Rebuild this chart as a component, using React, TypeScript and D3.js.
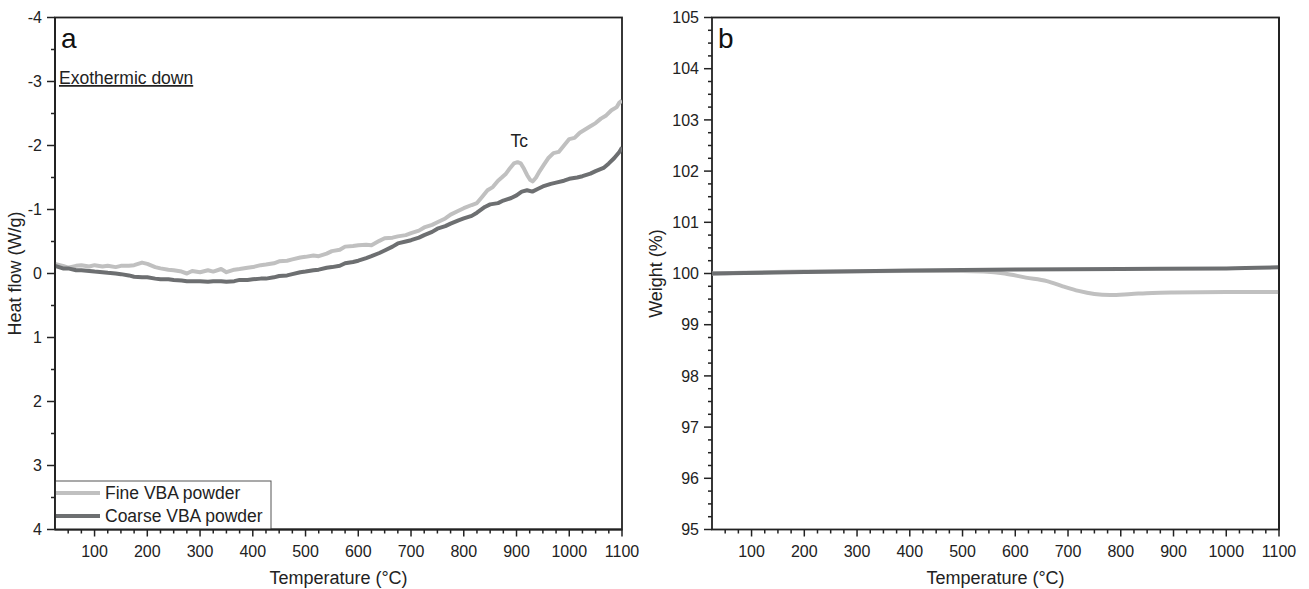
import React, { useEffect, useRef } from "react";
import * as d3 from "d3";

// DSC (panel a)
const fineT = [25, 40, 50, 65, 75, 90, 100, 115, 125, 140, 150, 165, 175, 190, 200, 215, 225, 240, 250, 265, 275, 285, 300, 315, 325, 340, 350, 365, 375, 390, 400, 415, 425, 440, 450, 465, 475, 490, 500, 515, 525, 540, 550, 565, 575, 590, 600, 615, 625, 640, 650, 665, 675, 690, 700, 715, 725, 740, 750, 765, 775, 790, 800, 815, 825, 835, 845, 855, 865, 872, 880, 888, 895, 902, 908, 914, 920, 926, 931, 937, 944, 952, 960, 970, 980, 990, 1000, 1010, 1020, 1030, 1040, 1050, 1060, 1070, 1080, 1090, 1095, 1100];
const fineHF = [-0.15, -0.12, -0.09, -0.12, -0.13, -0.11, -0.13, -0.11, -0.12, -0.1, -0.12, -0.12, -0.13, -0.17, -0.15, -0.1, -0.08, -0.06, -0.05, -0.03, 0.0, -0.04, -0.02, -0.05, -0.03, -0.07, -0.02, -0.06, -0.07, -0.09, -0.1, -0.13, -0.14, -0.16, -0.19, -0.2, -0.22, -0.25, -0.26, -0.28, -0.27, -0.31, -0.35, -0.37, -0.42, -0.43, -0.44, -0.45, -0.44, -0.51, -0.55, -0.56, -0.58, -0.6, -0.63, -0.67, -0.72, -0.76, -0.8, -0.86, -0.92, -0.98, -1.02, -1.07, -1.1, -1.2, -1.3, -1.35, -1.45, -1.5, -1.56, -1.65, -1.72, -1.74, -1.72, -1.64, -1.54, -1.46, -1.44, -1.5, -1.6, -1.7, -1.8, -1.88, -1.9, -2.0, -2.1, -2.12, -2.2, -2.25, -2.3, -2.35, -2.42, -2.47, -2.55, -2.6, -2.67, -2.7];

const coarseT = [25, 40, 50, 65, 75, 90, 100, 115, 125, 140, 150, 165, 175, 190, 200, 215, 225, 240, 250, 265, 275, 290, 300, 315, 325, 340, 350, 365, 375, 390, 400, 415, 425, 440, 450, 465, 475, 490, 500, 515, 525, 540, 550, 565, 575, 590, 600, 615, 625, 640, 650, 665, 675, 690, 700, 715, 725, 740, 750, 765, 775, 790, 800, 815, 825, 840, 850, 865, 875, 890, 900, 910, 920, 930, 940, 950, 965, 975, 990, 1000, 1015, 1025, 1040, 1050, 1065, 1075, 1085, 1095, 1100];
const coarseHF = [-0.12, -0.08, -0.08, -0.05, -0.05, -0.04, -0.03, -0.02, -0.01, 0.0, 0.01, 0.03, 0.05, 0.06, 0.06, 0.08, 0.09, 0.09, 0.1, 0.11, 0.12, 0.12, 0.12, 0.13, 0.12, 0.12, 0.13, 0.12, 0.1, 0.1, 0.09, 0.08, 0.08, 0.06, 0.04, 0.03, 0.01, -0.02, -0.03, -0.05, -0.06, -0.09, -0.1, -0.12, -0.16, -0.18, -0.2, -0.24, -0.27, -0.32, -0.36, -0.42, -0.47, -0.5, -0.52, -0.56, -0.6, -0.65, -0.7, -0.74, -0.78, -0.83, -0.86, -0.9, -0.95, -1.04, -1.08, -1.1, -1.14, -1.18, -1.22, -1.28, -1.3, -1.28, -1.32, -1.36, -1.4, -1.42, -1.45, -1.48, -1.5, -1.52, -1.56, -1.6, -1.65, -1.72, -1.8, -1.9, -1.97];

// TGA (panel b)
const fineWT = [25, 200, 400, 500, 540, 580, 620, 660, 690, 720, 750, 780, 820, 860, 900, 1000, 1100];
const fineW = [100.0, 100.04, 100.05, 100.05, 100.04, 100.0, 99.92, 99.85, 99.75, 99.66, 99.6, 99.58, 99.6, 99.62, 99.63, 99.64, 99.64];
const coarseWT = [25, 200, 400, 600, 800, 1000, 1100];
const coarseW = [100.0, 100.03, 100.06, 100.08, 100.09, 100.1, 100.12];

const xTicks = [100, 200, 300, 400, 500, 600, 700, 800, 900, 1000, 1100];
const hfTicks = [-4, -3, -2, -1, 0, 1, 2, 3, 4];
const wTicks = [95, 96, 97, 98, 99, 100, 101, 102, 103, 104, 105];

const FINE = "#c0c0c0";
const COARSE = "#6d6f71";
const FONT = "'Liberation Sans', Arial, sans-serif";

const App = () => {
  const svgRef = useRef<SVGSVGElement>(null);

  useEffect(() => {
    const svg = d3.select(svgRef.current);
    svg.selectAll("*").remove();

    const top = 17.5;
    const bottom = 529.5;

    const drawPanel = (
      left: number,
      right: number,
      yDomain: [number, number],
      yTicks: number[],
      yMinor: number,
      yTitle: string,
      yTitleX: number,
      letter: string
    ) => {
      const x = d3.scaleLinear().domain([25, 1100]).range([left, right]);
      const y = d3.scaleLinear().domain(yDomain).range([bottom, top]);
      const g = svg.append("g");

      // minor ticks
      const xMinor = d3.range(50, 1101, 25).filter((v) => v % 100 !== 0);
      g.selectAll(".xm")
        .data(xMinor)
        .enter()
        .append("line")
        .attr("x1", (d) => x(d))
        .attr("x2", (d) => x(d))
        .attr("y1", bottom)
        .attr("y2", bottom + 4)
        .attr("stroke", "#222")
        .attr("stroke-width", 1.5);
      const ym: number[] = [];
      for (let i = 0; i < yTicks.length - 1; i++) {
        for (let v = yTicks[i] + yMinor; v < yTicks[i + 1] - 1e-9; v += yMinor) ym.push(v);
      }
      g.selectAll(".ym")
        .data(ym)
        .enter()
        .append("line")
        .attr("x1", left - 4)
        .attr("x2", left)
        .attr("y1", (d) => y(d))
        .attr("y2", (d) => y(d))
        .attr("stroke", "#222")
        .attr("stroke-width", 1.5);

      // major ticks
      g.selectAll(".xM")
        .data(xTicks)
        .enter()
        .append("line")
        .attr("x1", (d) => x(d))
        .attr("x2", (d) => x(d))
        .attr("y1", bottom)
        .attr("y2", bottom + 7)
        .attr("stroke", "#222")
        .attr("stroke-width", 1.5);
      g.selectAll(".xl")
        .data(xTicks)
        .enter()
        .append("text")
        .attr("x", (d) => x(d))
        .attr("y", bottom + 27)
        .attr("text-anchor", "middle")
        .attr("font-family", FONT)
        .attr("font-size", 16)
        .attr("fill", "#222")
        .text((d) => String(d));
      g.selectAll(".yM")
        .data(yTicks)
        .enter()
        .append("line")
        .attr("x1", left - 8)
        .attr("x2", left)
        .attr("y1", (d) => y(d))
        .attr("y2", (d) => y(d))
        .attr("stroke", "#222")
        .attr("stroke-width", 1.5);
      g.selectAll(".yl")
        .data(yTicks)
        .enter()
        .append("text")
        .attr("x", left - 13)
        .attr("y", (d) => y(d))
        .attr("dy", "0.35em")
        .attr("text-anchor", "end")
        .attr("font-family", FONT)
        .attr("font-size", 16)
        .attr("fill", "#222")
        .text((d) => String(d));

      // frame
      g.append("rect")
        .attr("x", left)
        .attr("y", top)
        .attr("width", right - left)
        .attr("height", bottom - top)
        .attr("fill", "none")
        .attr("stroke", "#222")
        .attr("stroke-width", 1.8);

      g.append("text")
        .attr("x", (left + right) / 2)
        .attr("y", 584)
        .attr("text-anchor", "middle")
        .attr("font-family", FONT)
        .attr("font-size", 18)
        .attr("fill", "#222")
        .text("Temperature (°C)");
      g.append("text")
        .attr("transform", `translate(${yTitleX},${(top + bottom) / 2}) rotate(-90)`)
        .attr("text-anchor", "middle")
        .attr("font-family", FONT)
        .attr("font-size", 18)
        .attr("fill", "#222")
        .text(yTitle);
      g.append("text")
        .attr("x", left + 6)
        .attr("y", top + 30)
        .attr("font-family", FONT)
        .attr("font-size", 28)
        .attr("fill", "#111")
        .text(letter);

      return { x, y, g };
    };

    // panel a
    const a = drawPanel(55, 622, [4, -4], hfTicks, 0.5, "Heat flow (W/g)", 21, "a");
    const lineA = d3
      .line<[number, number]>()
      .x((d) => a.x(d[0]))
      .y((d) => a.y(d[1]));
    const clipA = svg.append("clipPath").attr("id", "clipA");
    clipA.append("rect").attr("x", 55).attr("y", 17.5).attr("width", 567).attr("height", 512);
    a.g.append("path")
      .datum(fineT.map((t, i) => [t, fineHF[i]] as [number, number]))
      .attr("d", lineA)
      .attr("clip-path", "url(#clipA)")
      .attr("fill", "none")
      .attr("stroke", FINE)
      .attr("stroke-width", 4)
      .attr("stroke-linejoin", "round");
    a.g.append("path")
      .datum(coarseT.map((t, i) => [t, coarseHF[i]] as [number, number]))
      .attr("d", lineA)
      .attr("clip-path", "url(#clipA)")
      .attr("fill", "none")
      .attr("stroke", COARSE)
      .attr("stroke-width", 4)
      .attr("stroke-linejoin", "round");

    a.g.append("text")
      .attr("x", 59)
      .attr("y", 84)
      .attr("font-family", FONT)
      .attr("font-size", 17.5)
      .attr("fill", "#222")
      .attr("text-decoration", "underline")
      .text("Exothermic down");
    a.g.append("text")
      .attr("x", a.x(905))
      .attr("y", a.y(-1.97))
      .attr("text-anchor", "middle")
      .attr("font-family", FONT)
      .attr("font-size", 17.5)
      .attr("fill", "#222")
      .text("Tc");

    // legend
    const leg = a.g.append("g");
    leg.append("rect")
      .attr("x", 55)
      .attr("y", 481)
      .attr("width", 216)
      .attr("height", 48.5)
      .attr("fill", "#fff")
      .attr("stroke", "#555")
      .attr("stroke-width", 1);
    const items = [
      { name: "Fine VBA powder", color: FINE, y: 493 },
      { name: "Coarse VBA powder", color: COARSE, y: 516 },
    ];
    items.forEach((it) => {
      leg.append("line")
        .attr("x1", 56)
        .attr("x2", 100)
        .attr("y1", it.y)
        .attr("y2", it.y)
        .attr("stroke", it.color)
        .attr("stroke-width", 4);
      leg.append("text")
        .attr("x", 105)
        .attr("y", it.y)
        .attr("dy", "0.35em")
        .attr("font-family", FONT)
        .attr("font-size", 17.5)
        .attr("fill", "#222")
        .text(it.name);
    });
    // re-draw frame edge over legend
    a.g.append("line").attr("x1", 55).attr("x2", 55).attr("y1", 17.5).attr("y2", 529.5).attr("stroke", "#222").attr("stroke-width", 1.8);
    a.g.append("line").attr("x1", 55).attr("x2", 622).attr("y1", 529.5).attr("y2", 529.5).attr("stroke", "#222").attr("stroke-width", 1.8);

    // panel b
    const b = drawPanel(712, 1279, [95, 105], wTicks, 0.25, "Weight (%)", 662, "b");
    const lineB = d3
      .line<[number, number]>()
      .x((d) => b.x(d[0]))
      .y((d) => b.y(d[1]))
      .curve(d3.curveMonotoneX);
    b.g.append("path")
      .datum(fineWT.map((t, i) => [t, fineW[i]] as [number, number]))
      .attr("d", lineB)
      .attr("fill", "none")
      .attr("stroke", FINE)
      .attr("stroke-width", 4);
    b.g.append("path")
      .datum(coarseWT.map((t, i) => [t, coarseW[i]] as [number, number]))
      .attr("d", lineB)
      .attr("fill", "none")
      .attr("stroke", COARSE)
      .attr("stroke-width", 4);
    b.g.append("line").attr("x1", 1279).attr("x2", 1279).attr("y1", 17.5).attr("y2", 529.5).attr("stroke", "#222").attr("stroke-width", 1.8);
  }, []);

  return (
    <svg
      ref={svgRef}
      width={1309}
      height={589}
      style={{ position: "absolute", left: 0, top: 0, background: "#fff" }}
    ></svg>
  );
};

export default App;
